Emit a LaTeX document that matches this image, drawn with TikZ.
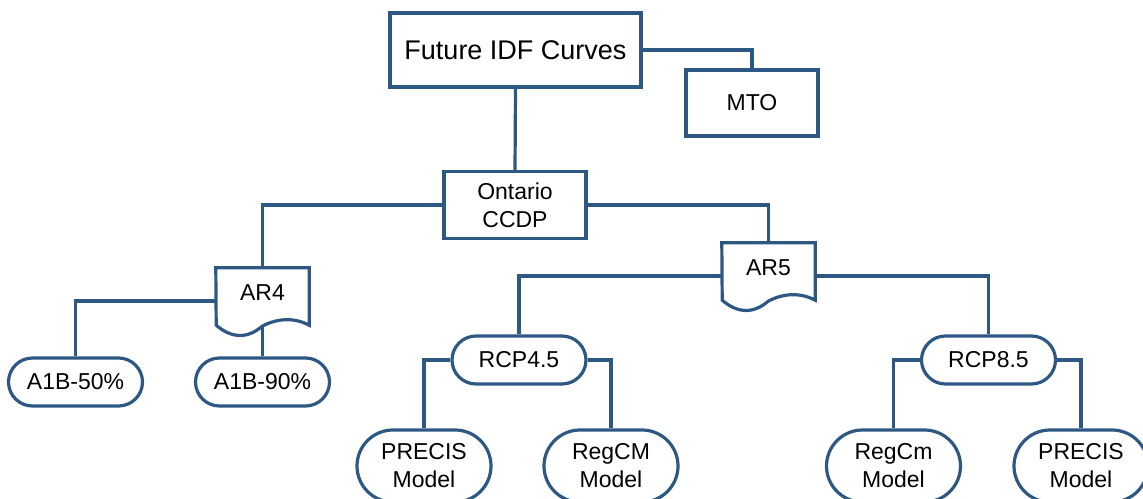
\documentclass[tikz,border=0pt]{standalone}
\usepackage{fontspec}
\setmainfont{Liberation Sans}
\usepackage{tikz}
\usetikzlibrary{shapes,arrows,positioning}
\definecolor{boxblue}{RGB}{46,88,132}

\begin{document}
\begin{tikzpicture}[x=1pt, y=-1pt,
    box/.style={draw=boxblue, line width=3.2pt, rectangle, fill=white, align=center, inner sep=0pt, font=\fontsize{23}{28}\selectfont},
    pill/.style={box, rounded rectangle, minimum width=134pt, minimum height=48pt},
    model/.style={pill, minimum height=72pt},
    docbox/.style={rectangle, align=center, inner sep=0pt, minimum width=93pt, minimum height=50pt, font=\fontsize{23}{28}\selectfont},
    link/.style={draw=boxblue, line width=3.2pt}]
\useasboundingbox (0,0) rectangle (1143,498);

\node[box, minimum width=251pt, minimum height=74pt, font=\fontsize{27}{30}\selectfont] (future) at (515.5,50) {Future IDF Curves};
\node[box, minimum width=132pt, minimum height=66pt] (mto) at (752,103) {MTO};
\node[box, minimum width=142pt, minimum height=67pt] (ccdp) at (515,205) {Ontario\\CCDP};
\node[docbox] (ar4) at (262.5,293) {AR4};
\node[docbox] (ar5) at (768.5,268) {AR5};
\node[pill] (a1b50) at (75.5,382) {A1B-50\%};
\node[pill] (a1b90) at (262.5,382) {A1B-90\%};
\node[pill] (rcp45) at (519,360) {RCP4.5};
\node[pill] (rcp85) at (988.5,360) {RCP8.5};
\node[model] (precis45) at (424,466) {PRECIS\\Model};
\node[model] (regcm45) at (611,466) {RegCM\\Model};
\node[model] (regcm85) at (893.5,466) {RegCm\\Model};
\node[model] (precis85) at (1081,466) {PRECIS\\Model};

\foreach \d in {ar4,ar5}
  \draw[link, line join=miter] (\d.north west) -- (\d.north east) -- ([yshift=-7pt]\d.south east)
    .. controls +(-15,-8) and +(15,-8) .. ++(-47,1)
    .. controls +(-15,13) and +(15,13) .. ++(-46,-1) -- cycle;

\draw[link] (future.east) -| (mto.north);
\draw[link] (future.south) -- (ccdp.north);
\draw[link] (ccdp.west) -| (ar4.north);
\draw[link] (ccdp.east) -| (ar5.north);
\draw[link] ([yshift=-8pt]ar4.west) -| (a1b50.north);
\draw[link] ([yshift=-8pt]ar4.south) -- (a1b90.north);
\draw[link] ([yshift=-8pt]ar5.west) -| (rcp45.north);
\draw[link] ([yshift=-8pt]ar5.east) -| (rcp85.north);
\draw[link] (rcp45.west) -| (precis45.north);
\draw[link] (rcp45.east) -| (regcm45.north);
\draw[link] (rcp85.west) -| (regcm85.north);
\draw[link] (rcp85.east) -| (precis85.north);
\end{tikzpicture}
\end{document}
